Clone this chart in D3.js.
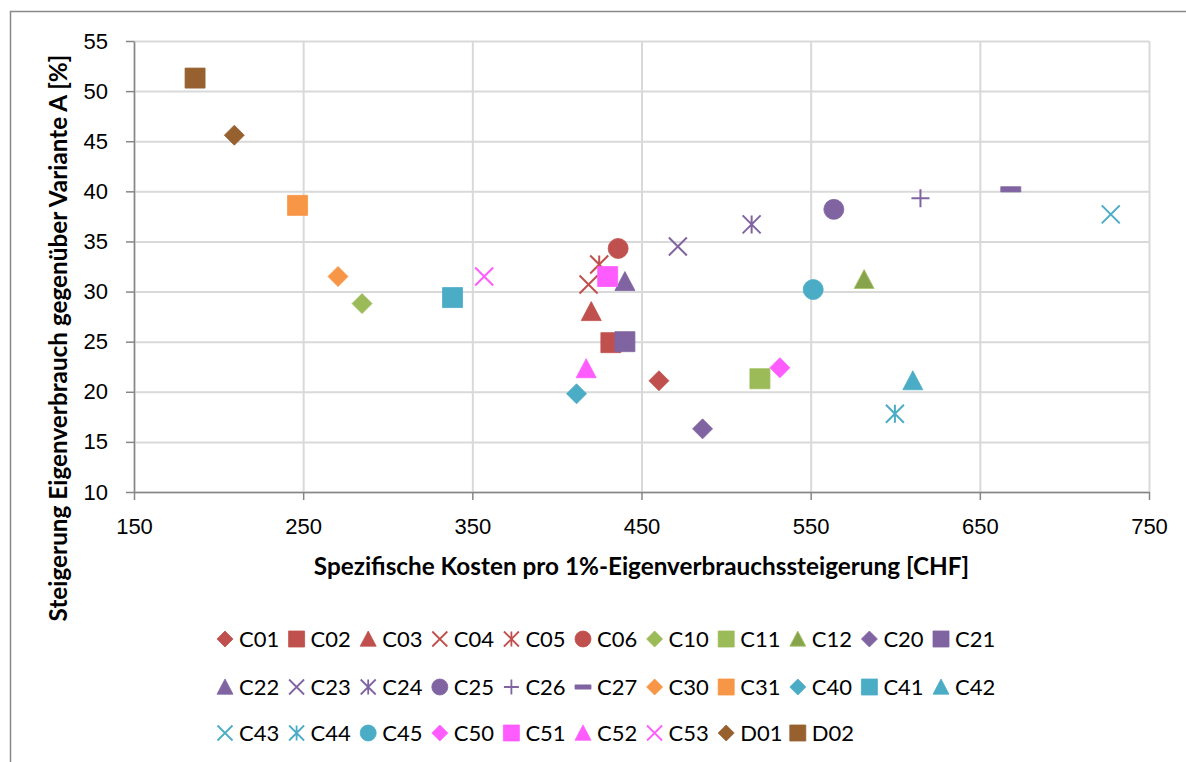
<!DOCTYPE html>
<html>
<head>
<meta charset="utf-8">
<script src="https://cdn.jsdelivr.net/npm/d3@7"></script>
<style>
  body { margin: 0; background: #fff; }
  svg { display: block; font-family: Lato, "Open Sans", sans-serif; }
  .tickText { font-size: 22px; fill: #000; }
  .axisTitle { font-size: 24.3px; font-weight: bold; fill: #000; }
  .legendText { font-size: 22px; fill: #000; }
</style>
</head>
<body>
<div id="chart"></div>
<script>
// series names
const series = ["C01", "C02", "C03", "C04", "C05", "C06", "C10", "C11", "C12", "C20", "C21",
                "C22", "C23", "C24", "C25", "C26", "C27", "C30", "C31", "C40", "C41", "C42",
                "C43", "C44", "C45", "C50", "C51", "C52", "C53", "D01", "D02"];

// specific cost per 1% self-consumption increase [CHF]
const costValues = [460.3, 431.9, 420.3, 418.7, 425.0, 436.2, 284.8, 520.0, 581.6, 486.1, 440.2,
                    440.2, 471.5, 515.1, 563.7, 614.9, 668.3, 270.6, 246.7, 411.6, 338.3, 610.4,
                    727.4, 599.8, 551.5, 531.8, 430.0, 417.3, 357.0, 209.3, 186.1];

// increase of self-consumption vs. variant A [%]
const gainValues = [21.1, 24.9, 28.0, 30.7, 32.7, 34.3, 28.8, 21.3, 31.2, 16.3, 25.0,
                    31.0, 34.5, 36.7, 38.2, 39.3, 40.2, 31.5, 38.6, 19.8, 29.4, 21.1,
                    37.7, 17.8, 30.2, 22.4, 31.5, 22.3, 31.5, 45.6, 51.3];

const xTicks = [150, 250, 350, 450, 550, 650, 750];
const yTicks = [10, 15, 20, 25, 30, 35, 40, 45, 50, 55];

// marker style per series
const markerShape = ["diamond", "square", "triangle", "x", "star", "circle", "diamond", "square", "triangle", "diamond", "square",
                     "triangle", "x", "star", "circle", "plus", "dash", "diamond", "square", "diamond", "square", "triangle",
                     "x", "star", "circle", "diamond", "square", "triangle", "x", "diamond", "square"];
const groupColor = { C0: "#C0504D", C1: "#9BBB59", C2: "#8064A2", C3: "#F79646", C4: "#4BACC6", C5: "#FF5CFF", D0: "#97602F" };
function colorOf(name) { return name == "C12" ? "#88A44A" : groupColor[name.slice(0, 2)]; }
function strokeOf(name) { return name == "C12" ? "#A5C466" : colorOf(name); }

function markerPath(shape, s) {
    const h = s / 2;
    switch (shape) {
        case "diamond": return `M0,${-h}L${h},0L0,${h}L${-h},0Z`;
        case "square": return `M${-h},${-h}H${h}V${h}H${-h}Z`;
        case "triangle": return `M0,${-h}L${h},${h * 0.9}L${-h},${h * 0.9}Z`;
        case "circle": return d3.symbol(d3.symbolCircle, Math.PI * h * h)();
        case "x": return `M${-h},${-h}L${h},${h}M${h},${-h}L${-h},${h}`;
        case "star": return `M${-h},${-h}L${h},${h}M${h},${-h}L${-h},${h}M0,${-h}V${h}`;
        case "plus": return `M${-h},0H${h}M0,${-h}V${h}`;
        case "dash": return `M${-h},${-s * 0.13}H${h}V${s * 0.13}H${-h}Z`;
    }
}
const isLine = shape => shape == "x" || shape == "star" || shape == "plus";

let margin = {top: 41, right: 37, bottom: 270, left: 134},
    width = 1186 - margin.left - margin.right,
    height = 762 - margin.top - margin.bottom;

let svg0 = d3.select("#chart")
    .append("svg")
    .attr("width", 1186)
    .attr("height", 762);

// outer chart border
svg0.append("rect")
    .attr("x", 10.5).attr("y", 11.5)
    .attr("width", 1300).attr("height", 900)
    .attr("fill", "none")
    .attr("stroke", "#898989")
    .attr("stroke-width", 1.5);

let svg = svg0.append("g")
    .attr("transform", `translate(${margin.left}, ${margin.top})`);

let x = d3.scaleLinear().domain([150, 750]).range([0, width]);
let y = d3.scaleLinear().domain([10, 55]).range([height, 0]);

// grid
svg.append("g")
    .call(d3.axisLeft(y).tickValues(yTicks).tickSize(-width).tickFormat(""))
    .call(g => g.select(".domain").remove())
    .call(g => g.selectAll("line").attr("stroke", "#D9D9D9").attr("stroke-width", 2));
svg.append("g")
    .attr("transform", `translate(0, ${height})`)
    .call(d3.axisBottom(x).tickValues(xTicks).tickSize(-height).tickFormat(""))
    .call(g => g.select(".domain").remove())
    .call(g => g.selectAll("line").attr("stroke", "#D9D9D9").attr("stroke-width", 2));

// axes
svg.append("g")
    .call(d3.axisLeft(y).tickValues(yTicks).tickSize(8).tickSizeOuter(0).tickPadding(18))
    .call(g => g.select(".domain").attr("stroke", "#868686").attr("stroke-width", 1.5))
    .call(g => g.selectAll("line").attr("stroke", "#868686").attr("stroke-width", 1.5))
    .call(g => g.selectAll("text").attr("class", "tickText"));
svg.append("g")
    .attr("transform", `translate(0, ${height})`)
    .call(d3.axisBottom(x).tickValues(xTicks).tickSize(8).tickSizeOuter(0).tickPadding(18))
    .call(g => g.select(".domain").attr("stroke", "#868686").attr("stroke-width", 1.5))
    .call(g => g.selectAll("line").attr("stroke", "#868686").attr("stroke-width", 1.5))
    .call(g => g.selectAll("text").attr("class", "tickText"));

// axis titles
svg.append("text")
    .attr("class", "axisTitle")
    .attr("text-anchor", "middle")
    .attr("x", width / 2)
    .attr("y", height + 83)
    .text("Spezifische Kosten pro 1%-Eigenverbrauchssteigerung [CHF]");
svg.append("text")
    .attr("class", "axisTitle")
    .attr("text-anchor", "middle")
    .attr("transform", `translate(${67 - margin.left}, ${338 - margin.top}) rotate(-90)`)
    .text("Steigerung Eigenverbrauch gegenüber Variante A [%]");

// points
let points = series.map((name, i) => ({name: name, cost: costValues[i], gain: gainValues[i], shape: markerShape[i]}));

svg.selectAll(".dot")
    .data(points)
    .join("path")
    .attr("class", "dot")
    .attr("transform", d => `translate(${x(d.cost)}, ${y(d.gain)})`)
    .attr("d", d => markerPath(d.shape, isLine(d.shape) ? 18 : 20))
    .attr("fill", d => isLine(d.shape) ? "none" : colorOf(d.name))
    .attr("stroke", d => strokeOf(d.name))
    .attr("stroke-width", d => isLine(d.shape) ? 2 : 0.8);

// legend: 11 per row
let legend = svg0.append("g");
let item = legend.selectAll(".legendItem")
    .data(points)
    .join("g")
    .attr("class", "legendItem")
    .attr("transform", (d, i) => `translate(${225 + (i % 11) * 71.6}, ${[639, 687, 733][Math.floor(i / 11)]})`);
item.append("path")
    .attr("d", d => markerPath(d.shape, isLine(d.shape) ? 15 : 16))
    .attr("fill", d => isLine(d.shape) ? "none" : colorOf(d.name))
    .attr("stroke", d => strokeOf(d.name))
    .attr("stroke-width", d => isLine(d.shape) ? 1.8 : 0.8);
item.append("text")
    .attr("class", "legendText")
    .attr("x", 14)
    .attr("y", 8)
    .text(d => d.name);
</script>
</body>
</html>
